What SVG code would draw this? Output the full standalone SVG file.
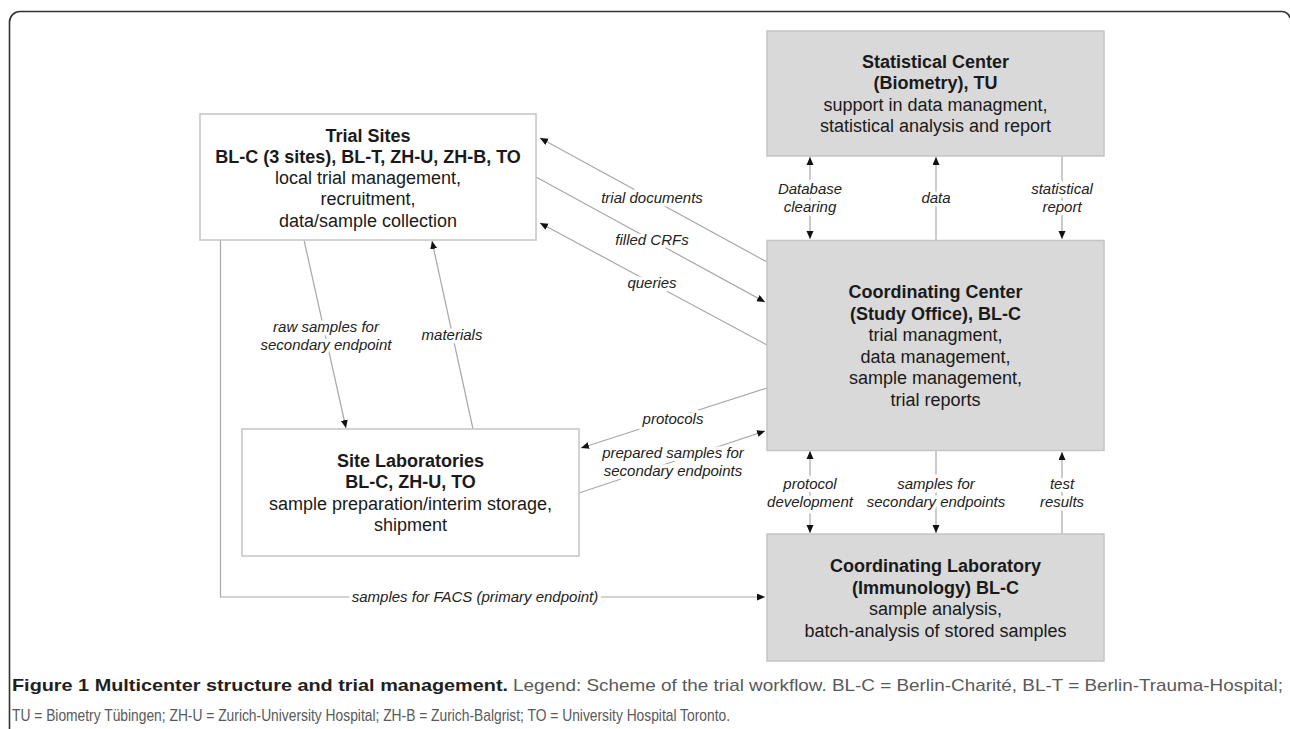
<svg xmlns="http://www.w3.org/2000/svg" width="1290" height="729" viewBox="0 0 1290 729">
<style>
.box{stroke:#c4c4c4;stroke-width:1.5}
.white{fill:#ffffff}
.gray{fill:#d9d9d9}
.t{font-family:"Liberation Sans",Arial,sans-serif;font-size:18px;fill:#1a1a1a;text-anchor:middle}
.b{font-weight:bold}
.lbl{font-family:"Liberation Sans",Arial,sans-serif;font-size:15px;font-style:italic;fill:#222;text-anchor:middle;stroke:#ffffff;stroke-width:7;paint-order:stroke;stroke-linejoin:round}
.c{stroke:#a8a8a8;stroke-width:1.2;fill:none}
.cap{font-family:"Liberation Sans",Arial,sans-serif;font-size:17px}
</style>
<defs>
<marker id="ah" markerWidth="9" markerHeight="8" refX="8" refY="3.5" orient="auto" markerUnits="userSpaceOnUse">
<path d="M0,0 L8,3.5 L0,7 z" fill="#111"/>
</marker>
<marker id="ahs" markerWidth="9" markerHeight="8" refX="0" refY="3.5" orient="auto" markerUnits="userSpaceOnUse">
<path d="M8,0 L0,3.5 L8,7 z" fill="#111"/>
</marker>
</defs>
<rect width="1290" height="729" fill="#ffffff"/>
<path d="M9.5,729 V22 A10.5,10.5 0 0 1 20,11.5 H1282 A8,8 0 0 1 1290,18" fill="none" stroke="#333" stroke-width="1.6"/>

<g id="connectors">
<line class="c" x1="767" y1="262" x2="540" y2="138" marker-end="url(#ah)"/>
<line class="c" x1="536" y1="177" x2="765" y2="302" marker-end="url(#ah)"/>
<line class="c" x1="767" y1="345" x2="540" y2="223" marker-end="url(#ah)"/>
<line class="c" x1="767" y1="388" x2="581" y2="448" marker-end="url(#ah)"/>
<line class="c" x1="579" y1="493" x2="765" y2="431" marker-end="url(#ah)"/>
<line class="c" x1="304" y1="240" x2="346" y2="428" marker-end="url(#ah)"/>
<line class="c" x1="473" y1="429" x2="432" y2="241" marker-end="url(#ah)"/>
<polyline class="c" points="220.5,240 220.5,597 765,597" marker-end="url(#ah)"/>
<line class="c" x1="810" y1="157" x2="810" y2="239" marker-start="url(#ahs)" marker-end="url(#ah)"/>
<line class="c" x1="936" y1="240" x2="936" y2="157" marker-end="url(#ah)"/>
<line class="c" x1="1062" y1="156" x2="1062" y2="239" marker-end="url(#ah)"/>
<line class="c" x1="810" y1="451" x2="810" y2="533" marker-start="url(#ahs)" marker-end="url(#ah)"/>
<line class="c" x1="936" y1="451" x2="936" y2="533" marker-end="url(#ah)"/>
<line class="c" x1="1062" y1="534" x2="1062" y2="452" marker-end="url(#ah)"/>
<text class="lbl" x="652" y="203">trial documents</text>
<text class="lbl" x="652" y="245">filled CRFs</text>
<text class="lbl" x="652" y="288">queries</text>
<text class="lbl" x="673" y="424">protocols</text>
<text class="lbl" x="673" y="458">prepared samples for</text>
<text class="lbl" x="673" y="476">secondary endpoints</text>
<text class="lbl" x="326" y="332">raw samples for</text>
<text class="lbl" x="326" y="350">secondary endpoint</text>
<text class="lbl" x="452" y="340">materials</text>
<text class="lbl" x="475" y="602">samples for FACS (primary endpoint)</text>
<text class="lbl" x="810" y="194">Database</text>
<text class="lbl" x="810" y="212">clearing</text>
<text class="lbl" x="936" y="203">data</text>
<text class="lbl" x="1062" y="194">statistical</text>
<text class="lbl" x="1062" y="212">report</text>
<text class="lbl" x="810" y="489">protocol</text>
<text class="lbl" x="810" y="507">development</text>
<text class="lbl" x="936" y="489">samples for</text>
<text class="lbl" x="936" y="507">secondary endpoints</text>
<text class="lbl" x="1062" y="489">test</text>
<text class="lbl" x="1062" y="507">results</text>
</g>

<g id="trial-sites">
<rect class="box white" x="200" y="114" width="336" height="126"/>
<text class="t b" x="368" y="141.5">Trial Sites</text>
<text class="t b" x="368" y="162.8">BL-C (3 sites), BL-T, ZH-U, ZH-B, TO</text>
<text class="t" x="368" y="184.1">local trial management,</text>
<text class="t" x="368" y="205.4">recruitment,</text>
<text class="t" x="368" y="226.7">data/sample collection</text>
</g>

<g id="statistical-center">
<rect class="box gray" x="767" y="31" width="337" height="125"/>
<text class="t b" x="935.5" y="67.5">Statistical Center</text>
<text class="t b" x="935.5" y="89">(Biometry), TU</text>
<text class="t" x="935.5" y="110.5">support in data managment,</text>
<text class="t" x="935.5" y="132">statistical analysis and report</text>
</g>

<g id="coordinating-center">
<rect class="box gray" x="767" y="240.5" width="337" height="210"/>
<text class="t b" x="935.5" y="298">Coordinating Center</text>
<text class="t b" x="935.5" y="319.5">(Study Office), BL-C</text>
<text class="t" x="935.5" y="341">trial managment,</text>
<text class="t" x="935.5" y="362.5">data management,</text>
<text class="t" x="935.5" y="384">sample management,</text>
<text class="t" x="935.5" y="405.5">trial reports</text>
</g>

<g id="site-laboratories">
<rect class="box white" x="242" y="429" width="337" height="127"/>
<text class="t b" x="410.5" y="466.5">Site Laboratories</text>
<text class="t b" x="410.5" y="488">BL-C, ZH-U, TO</text>
<text class="t" x="410.5" y="509.5">sample preparation/interim storage,</text>
<text class="t" x="410.5" y="531">shipment</text>
</g>

<g id="coordinating-laboratory">
<rect class="box gray" x="767" y="534" width="337" height="127"/>
<text class="t b" x="935.5" y="572">Coordinating Laboratory</text>
<text class="t b" x="935.5" y="593.5">(Immunology) BL-C</text>
<text class="t" x="935.5" y="615">sample analysis,</text>
<text class="t" x="935.5" y="636.5">batch-analysis of stored samples</text>
</g>

<g id="caption">
<text class="cap" x="12" y="691" font-weight="bold" fill="#231f20" textLength="496" lengthAdjust="spacingAndGlyphs">Figure 1 Multicenter structure and trial management.</text>
<text class="cap" x="513" y="691" fill="#58595b" textLength="770" lengthAdjust="spacingAndGlyphs">Legend: Scheme of the trial workflow. BL-C = Berlin-Charité, BL-T = Berlin-Trauma-Hospital;</text>
<text class="cap" x="12" y="721" fill="#58595b" textLength="718" lengthAdjust="spacingAndGlyphs">TU = Biometry Tübingen; ZH-U = Zurich-University Hospital; ZH-B = Zurich-Balgrist; TO = University Hospital Toronto.</text>
</g>
</svg>
